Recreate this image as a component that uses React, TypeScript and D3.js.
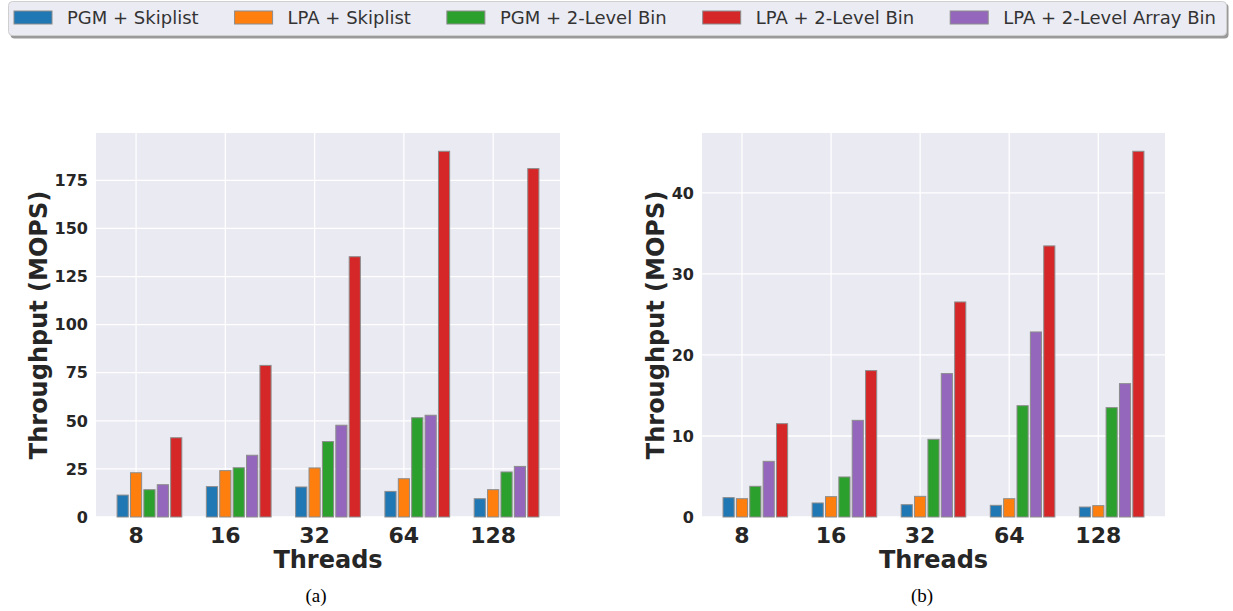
import React, { useEffect, useRef } from "react";
import * as d3 from "d3";

const threads = ["8", "16", "32", "64", "128"];
const seriesNames = [
  "PGM + Skiplist",
  "LPA + Skiplist",
  "PGM + 2-Level Bin",
  "LPA + 2-Level Bin",
  "LPA + 2-Level Array Bin",
];
const seriesColors = ["#1f77b4", "#ff7f0e", "#2ca02c", "#d62728", "#9467bd"];
// bar order within a group: PGM+Skiplist, LPA+Skiplist, PGM+2LB, LPA+2LArrayBin, LPA+2LB
const barOrder = [0, 1, 2, 4, 3];

// chart (a)
const aPgmSkip = [11.4, 15.8, 15.6, 13.3, 9.5];
const aLpaSkip = [23.0, 24.1, 25.5, 19.9, 14.2];
const aPgm2LB = [14.2, 25.6, 39.2, 51.6, 23.4];
const aLpa2LB = [41.2, 78.8, 135.3, 190.1, 181.1];
const aLpa2LAB = [16.8, 32.1, 47.7, 52.9, 26.3];
const aTicks = [0, 25, 50, 75, 100, 125, 150, 175];

// chart (b)
const bPgmSkip = [2.39, 1.73, 1.52, 1.44, 1.23];
const bLpaSkip = [2.26, 2.51, 2.55, 2.26, 1.4];
const bPgm2LB = [3.79, 4.94, 9.59, 13.74, 13.5];
const bLpa2LB = [11.52, 18.07, 26.54, 33.46, 45.14];
const bLpa2LAB = [6.87, 11.93, 17.7, 22.84, 16.46];
const bTicks = [0, 10, 20, 30, 40];

const TXT = "#262626";
const FONT = "'DejaVu Sans', Verdana, sans-serif";

function drawPanel(
  svg: d3.Selection<SVGSVGElement, unknown, null, undefined>,
  series: number[][],
  yTicks: number[],
  x0: number,
  x1: number,
  y0: number,
  y1: number,
  ylabelX: number,
  caption: string,
  captionX: number
) {
  const step = 0.15;
  const bw = 0.125;
  const lo = -step - bw / 2;
  const hi = 3 * step + bw / 2 + (threads.length - 1);
  const m = (hi - lo) * 0.05;
  const x = d3.scaleLinear().domain([lo - m, hi + m]).range([x0, x1]);
  const ymax = d3.max(series.flat())! * 1.05;
  const y = d3.scaleLinear().domain([0, ymax]).range([y1, y0]);
  const g = svg.append("g");
  g.append("rect")
    .attr("x", x0)
    .attr("y", y0)
    .attr("width", x1 - x0)
    .attr("height", y1 - y0)
    .attr("fill", "#eaeaf2");
  // grid
  g.selectAll("line.hg")
    .data(yTicks)
    .join("line")
    .attr("x1", x0)
    .attr("x2", x1)
    .attr("y1", (d) => y(d))
    .attr("y2", (d) => y(d))
    .attr("stroke", "#ffffff")
    .attr("stroke-width", 1.3);
  g.selectAll("line.vg")
    .data(threads.map((_, i) => i))
    .join("line")
    .attr("x1", (d) => x(d))
    .attr("x2", (d) => x(d))
    .attr("y1", y0)
    .attr("y2", y1)
    .attr("stroke", "#ffffff")
    .attr("stroke-width", 1.3);
  // bars
  barOrder.forEach((si, k) => {
    g.selectAll(`rect.s${si}`)
      .data(series[si].map((v, i) => ({ v, i })))
      .join("rect")
      .attr("x", (d) => x(d.i + (k - 1) * step - bw / 2))
      .attr("width", x(bw) - x(0))
      .attr("y", (d) => y(d.v))
      .attr("height", (d) => y(0) - y(d.v))
      .attr("fill", seriesColors[si])
      .attr("stroke", "#8c8c8c")
      .attr("stroke-width", 1);
  });
  // y tick labels
  g.selectAll("text.yt")
    .data(yTicks)
    .join("text")
    .attr("x", x0 - 8)
    .attr("y", (d) => y(d))
    .attr("dy", "0.36em")
    .attr("text-anchor", "end")
    .attr("font-family", FONT)
    .attr("font-weight", "bold")
    .attr("font-size", 16)
    .attr("fill", TXT)
    .text((d) => String(d));
  // x tick labels
  g.selectAll("text.xt")
    .data(threads)
    .join("text")
    .attr("x", (_, i) => x(i))
    .attr("y", 543)
    .attr("text-anchor", "middle")
    .attr("font-family", FONT)
    .attr("font-weight", "bold")
    .attr("font-size", 22)
    .attr("fill", TXT)
    .text((d) => d);
  g.append("text")
    .attr("x", (x0 + x1) / 2)
    .attr("y", 568)
    .attr("text-anchor", "middle")
    .attr("font-family", FONT)
    .attr("font-weight", "bold")
    .attr("font-size", 24)
    .attr("fill", TXT)
    .text("Threads");
  g.append("text")
    .attr("transform", `translate(${ylabelX},${(y0 + y1) / 2}) rotate(-90)`)
    .attr("text-anchor", "middle")
    .attr("dy", "0.36em")
    .attr("font-family", FONT)
    .attr("font-weight", "bold")
    .attr("font-size", 24)
    .attr("fill", TXT)
    .text("Throughput (MOPS)");
  g.append("text")
    .attr("x", captionX)
    .attr("y", 602)
    .attr("text-anchor", "middle")
    .attr("font-family", "'Liberation Serif', 'Times New Roman', serif")
    .attr("font-size", 19)
    .attr("fill", "#000")
    .text(caption);
}

export default function App() {
  const ref = useRef<SVGSVGElement>(null);
  useEffect(() => {
    const svg = d3.select(ref.current!);
    svg.selectAll("*").remove();
    // legend
    const lg = svg.append("g");
    lg.append("rect")
      .attr("x", 10.5)
      .attr("y", 3.5)
      .attr("width", 1218)
      .attr("height", 35)
      .attr("rx", 4)
      .attr("fill", "#9a9a9a");
    lg.append("rect")
      .attr("x", 8.5)
      .attr("y", 1.5)
      .attr("width", 1218)
      .attr("height", 34)
      .attr("rx", 4)
      .attr("fill", "#ebebf3")
      .attr("stroke", "#cfcfcf")
      .attr("stroke-width", 1);
    let cx = 14;
    seriesNames.forEach((name, i) => {
      lg.append("rect")
        .attr("x", cx)
        .attr("y", 11)
        .attr("width", 38)
        .attr("height", 13)
        .attr("fill", seriesColors[i])
        .attr("stroke", "#8c8c8c")
        .attr("stroke-width", 1);
      const t = lg
        .append("text")
        .attr("x", cx + 53)
        .attr("y", 24)
        .attr("font-family", FONT)
        .attr("font-size", 18)
        .attr("fill", "#333333")
        .text(name);
      const w = (t.node() as SVGTextElement).getComputedTextLength();
      cx = cx + 53 + w + 36;
    });
    drawPanel(
      svg,
      [aPgmSkip, aLpaSkip, aPgm2LB, aLpa2LB, aLpa2LAB],
      aTicks,
      96,
      560,
      133,
      517,
      38,
      "(a)",
      316
    );
    drawPanel(
      svg,
      [bPgmSkip, bLpaSkip, bPgm2LB, bLpa2LB, bLpa2LAB],
      bTicks,
      702,
      1165,
      133,
      517,
      655,
      "(b)",
      922
    );
  }, []);
  return (
    <svg
      ref={ref}
      width={1233}
      height={611}
      style={{ position: "absolute", left: 0, top: 0, background: "#fff" }}
    />
  );
}
